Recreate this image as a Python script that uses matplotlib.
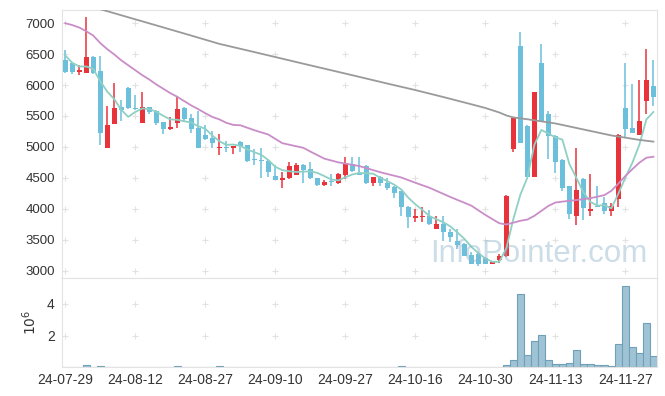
import matplotlib
matplotlib.use('Agg')
import matplotlib.pyplot as plt
import numpy as np

plt.rcParams['font.family'] = ['Liberation Sans', 'DejaVu Sans']

# daily candles (trading day index 0..84)
open_ = [6400, 6360, 6210, 6190, 6460, 6230, 4990, 5370, 5650, 5960,
         5630, 5390, 5650, 5580, 5400, 5290, 5380, 5630, 5470, 5300,
         5190, 5140, 4980, 5000, 4980, 5080, 5030, 4800, 4790, 4770,
         4530, 4470, 4490, 4550, 4710, 4640, 4490, 4380, 4440, 4420,
         4550, 4720, 4560, 4690, 4410, 4520, 4420, 4350, 4280, 4030,
         3850, 3870, 3890, 3680, 3760, 3630, 3480, 3430, 3250, 3270,
         3210, 3110, 3170, 3230, 4970, 6630, 5340, 4520, 6360, 5530,
         5180, 4790, 4360, 3880, 4480, 3960, 4050, 4090, 3960, 4160,
         5630, 5300, 5190, 5750, 5980]
high = [6560, 6370, 6330, 7100, 6470, 6470, 5660, 6040, 5760, 5970,
        5840, 5890, 5650, 5590, 5410, 5480, 5830, 5640, 5530, 5580,
        5360, 5250, 5210, 5100, 5020, 5090, 5035, 4960, 4990, 4780,
        4710, 4600, 4760, 4740, 4720, 4750, 4500, 4460, 4560, 4570,
        4840, 4840, 4840, 4700, 4520, 4530, 4500, 4360, 4290, 4040,
        4000, 4020, 3980, 3880, 3880, 3670, 3680, 3440, 3300, 3300,
        3220, 3150, 3260, 4220, 5480, 6860, 5350, 5890, 6670, 5580,
        5190, 4800, 4370, 4990, 4490, 4560, 4360, 4190, 4100, 5210,
        6360, 6020, 6080, 6580, 6400]
low = [6200, 6180, 6160, 6190, 6180, 5030, 4990, 5370, 5420, 5610,
       5600, 5390, 5530, 5350, 5210, 5280, 5310, 5420, 5220, 4990,
       5110, 4980, 4870, 4910, 4880, 4910, 4760, 4710, 4500, 4520,
       4460, 4330, 4480, 4540, 4420, 4480, 4370, 4370, 4370, 4400,
       4480, 4600, 4545, 4400, 4370, 4360, 4300, 4180, 3890, 3690,
       3780, 3790, 3740, 3680, 3480, 3470, 3350, 3230, 3100, 3080,
       3100, 3100, 3120, 3220, 4925, 5060, 4510, 4520, 5410, 4800,
       4570, 4280, 3830, 3740, 3810, 3890, 4020, 3910, 3890, 4030,
       5150, 5220, 5190, 5530, 5660]
close = [6210, 6210, 6240, 6450, 6200, 5220, 5360, 5630, 5590, 5630,
         5610, 5650, 5570, 5390, 5290, 5320, 5620, 5450, 5290, 4990,
         5120, 5070, 5000, 4980, 5020, 5020, 4770, 4780, 4770, 4600,
         4470, 4500, 4690, 4710, 4630, 4490, 4380, 4430, 4430, 4560,
         4740, 4610, 4550, 4410, 4520, 4410, 4340, 4260, 4020, 3860,
         3880, 3890, 3760, 3760, 3620, 3540, 3410, 3240, 3110, 3110,
         3110, 3140, 3240, 4210, 5470, 5070, 4520, 5890, 5420, 5180,
         4760, 4340, 3920, 4300, 4010, 3990, 4030, 3960, 4040, 5200,
         5290, 5230, 5420, 6080, 5800]
# volume in millions of shares
volume = [0.01, 0.01, 0.01, 0.12, 0.01, 0.06, 0.01, 0.01, 0.01, 0.01,
          0.01, 0.01, 0.01, 0.01, 0.01, 0.01, 0.06, 0.01, 0.01, 0.01,
          0.01, 0.01, 0.06, 0.01, 0.01, 0.01, 0.01, 0.01, 0.01, 0.01,
          0.01, 0.01, 0.01, 0.01, 0.01, 0.01, 0.01, 0.01, 0.01, 0.01,
          0.01, 0.01, 0.01, 0.01, 0.01, 0.01, 0.01, 0.01, 0.06, 0.01,
          0.01, 0.01, 0.01, 0.01, 0.01, 0.01, 0.01, 0.01, 0.01, 0.01,
          0.01, 0.01, 0.01, 0.13, 0.46, 4.61, 0.78, 1.66, 2.01, 0.46,
          0.21, 0.21, 0.27, 1.09, 0.21, 0.21, 0.15, 0.15, 0.08, 1.47,
          5.12, 1.26, 0.90, 2.77, 0.71]

# moving averages as drawn on the chart
ma5 = [6480, 6360, 6300, 6300, 6262, 6064, 5894, 5772, 5600, 5486,
       5564, 5622, 5610, 5570, 5502, 5444, 5438, 5414, 5394, 5334,
       5294, 5184, 5094, 5032, 5038, 5018, 4958, 4914, 4872, 4788,
       4678, 4624, 4606, 4594, 4600, 4604, 4580, 4528, 4472, 4458,
       4508, 4554, 4578, 4574, 4566, 4500, 4446, 4388, 4310, 4178,
       4072, 3982, 3882, 3830, 3782, 3714, 3618, 3514, 3384, 3282,
       3196, 3142, 3142, 3362, 3834, 4226, 4502, 5032, 5274, 5216,
       5154, 5118, 4724, 4500, 4266, 4112, 4050, 4058, 4006, 4244,
       4504, 4744, 5036, 5444, 5564]
ma20_day = [0, 1, 2, 3, 4, 5, 6, 7, 8, 9, 10, 11, 12, 13, 14, 15, 16, 17, 18,
            19, 20, 21, 22, 23, 24, 25, 27, 29, 31, 34, 35, 37, 39, 42, 45,
            48, 50, 52, 53, 55, 58, 60, 62, 63, 64, 65, 66, 67, 68, 69, 70,
            71, 73, 75, 77, 78, 79, 80, 81, 82, 83, 84]
ma20 = [7000, 6970, 6930, 6870, 6800, 6680, 6580, 6495, 6400, 6320, 6240,
        6160, 6090, 6010, 5940, 5870, 5810, 5740, 5670, 5610, 5545, 5485,
        5445, 5390, 5355, 5350, 5270, 5200, 5060, 4985, 4925, 4810, 4750,
        4690, 4590, 4505, 4420, 4340, 4290, 4190, 4050, 3900, 3765, 3745,
        3775, 3805, 3825, 3885, 3965, 4045, 4100, 4115, 4140, 4170, 4220,
        4290, 4405, 4530, 4640, 4745, 4825, 4840]
ma_long_day = [5, 6, 10, 14, 18, 22, 26, 30, 34, 38, 42, 46, 50, 54, 58, 60,
               62, 63, 64, 66, 70, 74, 78, 82, 84]
ma_long = [7226, 7194, 7063, 6932, 6800, 6666, 6560, 6453, 6345, 6239, 6132,
           6024, 5919, 5806, 5689, 5629, 5556, 5508, 5476, 5447, 5379, 5282,
           5185, 5113, 5085]

tick_days = [0, 10, 20, 30, 40, 50, 60, 70, 80]
tick_labels = ['24-07-29', '24-08-12', '24-08-27', '24-09-10', '24-09-27',
               '24-10-16', '24-10-30', '24-11-13', '24-11-27']
price_ticks = [3000, 3500, 4000, 4500, 5000, 5500, 6000, 6500, 7000]

up_color = '#e8333a'
down_color = '#6cc0dc'
spine_color = '#e3e3e3'
cross_color = '#e2e2e2'
text_color = '#333333'

fig = plt.figure(figsize=(6.65, 3.96), dpi=100)
ax = fig.add_axes([0.0928, 0.298, 0.895, 0.677])
ax_vol = fig.add_axes([0.0928, 0.0725, 0.895, 0.2255])

days = np.arange(len(close))
o = np.array(open_)
c = np.array(close)
colors = [up_color if cc > oo else down_color for oo, cc in zip(o, c)]

# grid drawn as small crosses
gx, gy = np.meshgrid(tick_days, price_ticks)
ax.scatter(gx.ravel(), gy.ravel(), marker='+', s=14, color=cross_color, linewidths=0.8, zorder=0)

# candles
ax.vlines(days, low, high, colors=colors, linewidth=1.1, zorder=2)
body_bottom = np.minimum(o, c)
body_height = np.maximum(np.abs(c - o), 12)
ax.bar(days, body_height, bottom=body_bottom, width=0.66, color=colors, linewidth=0, zorder=3)

# moving averages
ax.plot(days, ma5, color='#8fd0c4', linewidth=1.3, zorder=4)
ax.plot(ma20_day, ma20, color='#c98dc8', linewidth=1.3, zorder=4)
ax.plot(ma_long_day, ma_long, color='#9a9a9a', linewidth=1.3, zorder=4)

ax.set_xlim(-0.5, 84.5)
ax.set_ylim(2880, 7215)
ax.set_yticks(price_ticks)
ax.set_xticks(tick_days)
ax.tick_params(axis='x', labelbottom=False, length=0)
ax.tick_params(axis='y', length=0, pad=5, labelsize=9.5, labelcolor=text_color)
for s in ax.spines.values():
    s.set_color(spine_color)

ax.text(0.802, 0.09, 'InfoPointer.com', transform=ax.transAxes, ha='center', va='center',
        fontsize=22.5, color='#8fb5cb', alpha=0.45, zorder=6)

# volume panel
vol = np.array(volume) * 1e6
vx, vy = np.meshgrid(tick_days, [2e6, 4e6])
ax_vol.scatter(vx.ravel(), vy.ravel(), marker='+', s=14, color=cross_color, linewidths=0.8, zorder=0)
ax_vol.bar(days, vol, width=1.0, color='#9fc3d4', edgecolor='#70a0b7', linewidth=0.8, zorder=2)
ax_vol.set_xlim(-0.5, 84.5)
ax_vol.set_ylim(0, 5.62e6)
ax_vol.set_yticks([2e6, 4e6])
ax_vol.set_yticklabels(['2', '4'])
ax_vol.set_xticks(tick_days)
ax_vol.set_xticklabels(tick_labels)
ax_vol.tick_params(axis='both', length=0, labelsize=10, labelcolor=text_color)
ax_vol.tick_params(axis='y', pad=5)
ax_vol.tick_params(axis='x', pad=4)
ax_vol.set_ylabel(r'$10^6$', fontsize=10, color=text_color)
ax_vol.yaxis.set_label_coords(-0.039, 0.5)
for s in ax_vol.spines.values():
    s.set_color(spine_color)

plt.savefig('out.png', dpi=100)
